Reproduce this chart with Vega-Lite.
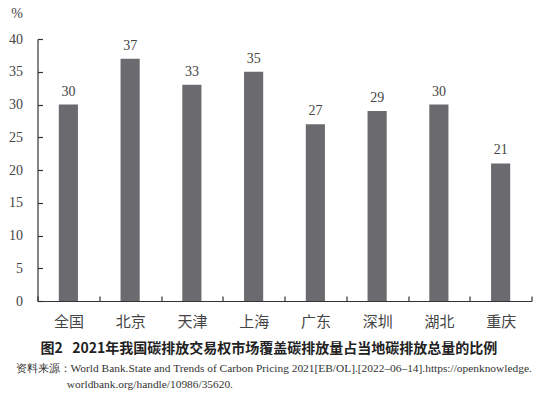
{
  "$schema": "https://vega.github.io/schema/vega-lite/v6.json",
  "autosize": "none",
  "width": 494,
  "height": 262,
  "padding": {"left": 37.5, "top": 39, "right": 4.5, "bottom": 93},
  "background": "white",
  "data": {
    "values": [
      {"region": "全国", "value": 30},
      {"region": "北京", "value": 37},
      {"region": "天津", "value": 33},
      {"region": "上海", "value": 35},
      {"region": "广东", "value": 27},
      {"region": "深圳", "value": 29},
      {"region": "湖北", "value": 30},
      {"region": "重庆", "value": 21}
    ]
  },
  "title": {
    "text": ["资料来源：World Bank.State and Trends of Carbon Pricing 2021[EB/OL].[2022–06–14].https://openknowledge.", "\u200b\u00a0\u00a0\u00a0\u00a0\u00a0\u00a0\u00a0\u00a0\u00a0\u00a0\u00a0\u00a0\u00a0\u00a0\u00a0\u00a0\u00a0\u00a0worldbank.org/handle/10986/35620."],
    "orient": "bottom",
    "anchor": "start",
    "dx": 7,
    "offset": 8,
    "font": "Liberation Serif",
    "fontSize": 11.4,
    "fontWeight": "normal",
    "color": "#333333",
    "lineHeight": 16
  },
  "config": {
    "view": {"stroke": null},
    "axis": {"grid": false, "domainColor": "#333333", "tickColor": "#333333", "domainWidth": 1.2, "tickWidth": 1.2}
  },
  "encoding": {
    "x": {
      "field": "region", "type": "nominal", "sort": null,
      "scale": {"paddingInner": 0, "paddingOuter": 0},
      "axis": {
        "title": "图2\u00a0\u00a0\u00a02021年我国碳排放交易权市场覆盖碳排放量占当地碳排放总量的比例",
        "titleFont": "Noto Sans CJK SC",
        "titleFontSize": 14,
        "titleFontWeight": "bold",
        "titleColor": "#222222",
        "titleAlign": "left",
        "titleAnchor": "start",
        "titleX": 2.5,
        "titlePadding": 12,
        "labelAngle": 0,
        "labelFont": "Noto Sans CJK SC",
        "labelFontSize": 15,
        "labelColor": "#444444",
        "labelPadding": 18,
        "tickBand": "extent",
        "tickSize": -5
      }
    },
    "y": {
      "field": "value", "type": "quantitative",
      "scale": {"domain": [0, 40]},
      "axis": {
        "values": [0, 5, 10, 15, 20, 25, 30, 35, 40],
        "labelOverlap": false,
        "title": "%",
        "titleAngle": 0,
        "titleFont": "Liberation Serif",
        "titleFontSize": 14,
        "titleFontWeight": "normal",
        "titleColor": "#444444",
        "titleX": -21,
        "titleY": -19,
        "titleAlign": "center",
        "labelFont": "Liberation Serif",
        "labelFontSize": 14,
        "labelColor": "#444444",
        "labelPadding": 20,
        "tickSize": -5
      }
    }
  },
  "layer": [
    {
      "mark": {"type": "bar", "color": "#6b6b6f", "width": {"band": 0.31}}
    },
    {
      "mark": {"type": "text", "dy": -13, "font": "Liberation Serif", "fontSize": 14, "color": "#444444"},
      "encoding": {
        "text": {"field": "value", "type": "quantitative"}
      }
    }
  ]
}
